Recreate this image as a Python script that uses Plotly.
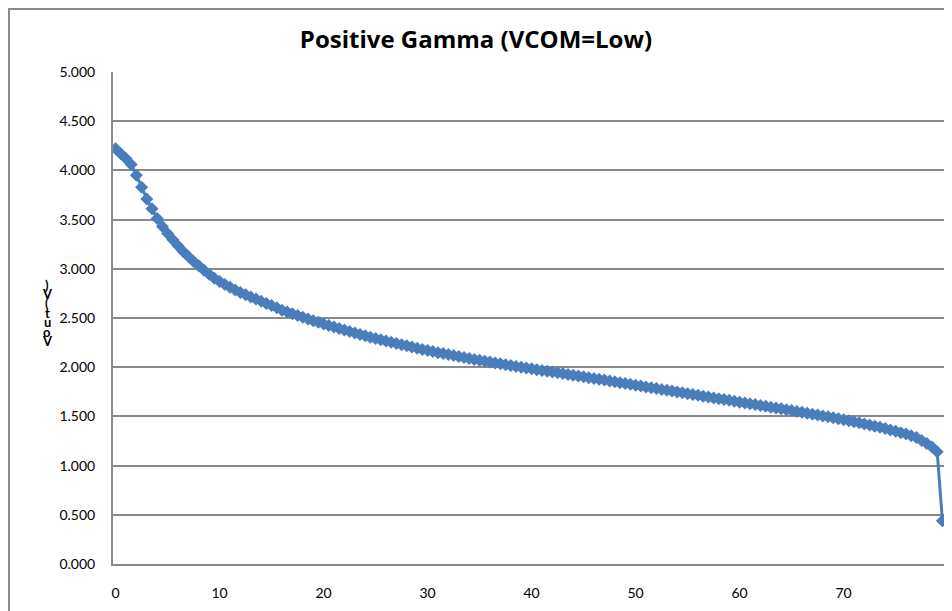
import plotly.graph_objects as go

# Data: gray index (x) and output voltage (V)
x_values = [i * 0.5 for i in range(160)]
vout = [
    4.220, 4.170, 4.120, 4.060, 3.950, 3.830, 3.710, 3.610, 3.510, 3.430,
    3.360, 3.295, 3.235, 3.175, 3.125, 3.075, 3.030, 2.985, 2.945, 2.905,
    2.870, 2.840, 2.812, 2.785, 2.760, 2.737, 2.714, 2.692, 2.670, 2.648,
    2.626, 2.604, 2.580, 2.561, 2.543, 2.525, 2.507, 2.490, 2.473, 2.456,
    2.440, 2.424, 2.408, 2.393, 2.378, 2.362, 2.347, 2.333, 2.319, 2.305,
    2.292, 2.279, 2.266, 2.253, 2.241, 2.229, 2.217, 2.205, 2.193, 2.181,
    2.170, 2.159, 2.148, 2.138, 2.128, 2.118, 2.108, 2.098, 2.088, 2.079,
    2.070, 2.061, 2.052, 2.043, 2.034, 2.025, 2.017, 2.008, 2.000, 1.991,
    1.983, 1.975, 1.967, 1.959, 1.951, 1.943, 1.935, 1.927, 1.919, 1.911,
    1.903, 1.894, 1.886, 1.877, 1.869, 1.860, 1.851, 1.843, 1.834, 1.826,
    1.817, 1.808, 1.800, 1.791, 1.783, 1.774, 1.766, 1.757, 1.748, 1.740,
    1.731, 1.723, 1.714, 1.705, 1.697, 1.688, 1.680, 1.671, 1.663, 1.654,
    1.645, 1.637, 1.628, 1.620, 1.611, 1.602, 1.594, 1.585, 1.577, 1.568,
    1.559, 1.550, 1.541, 1.532, 1.523, 1.514, 1.505, 1.496, 1.487, 1.477,
    1.467, 1.457, 1.446, 1.435, 1.424, 1.413, 1.401, 1.389, 1.376, 1.363,
    1.349, 1.335, 1.320, 1.303, 1.285, 1.255, 1.225, 1.190, 1.140, 0.440,
]
x_tick_values = [0, 10, 20, 30, 40, 50, 60, 70]
y_tick_values = [0, 0.5, 1.0, 1.5, 2.0, 2.5, 3.0, 3.5, 4.0, 4.5, 5.0]
title_text = "Positive Gamma (VCOM=Low)"
y_title_text = "Vout(V)"

BLUE = "#4a7ebb"
GRID = "#8a8a8a"

fig = go.Figure()
fig.add_trace(go.Scatter(
    x=x_values, y=vout, mode="lines+markers",
    line=dict(color=BLUE, width=3),
    marker=dict(symbol="diamond", size=10, color=BLUE),
    showlegend=False,
))

# page body has an 8px margin: figure occupies 8..952 x 8..611
OFF = 8
W, H = 952 - OFF, 611 - OFF
L, R, T, B = 113 - OFF, 7, 72 - OFF, 47
pw, ph = W - L - R, H - T - B

fig.update_layout(
    width=W, height=H,
    margin=dict(l=L, r=R, t=T, b=B),
    paper_bgcolor="white", plot_bgcolor="white",
    font=dict(family="Lato, Carlito, Calibri, sans-serif", size=14, color="black"),
    title=dict(text="<b>" + title_text + "</b>", x=(476 - OFF) / W, xanchor="center",
               y=1 - (40 - OFF) / H, yanchor="middle", yref="container",
               font=dict(size=24, family="Open Sans, sans-serif", color="black")),
    xaxis=dict(range=[-0.25, 79.75], tickvals=x_tick_values,
               ticktext=[str(v) for v in x_tick_values],
               showgrid=False, zeroline=False,
               showline=True, linecolor=GRID, linewidth=2,
               ticks="outside", ticklen=15, tickcolor="rgba(0,0,0,0)"),
    yaxis=dict(range=[0, 5], tickvals=y_tick_values,
               ticktext=["%.3f" % v for v in y_tick_values],
               showgrid=True, gridcolor=GRID, gridwidth=1.5, zeroline=False,
               showline=True, linecolor=GRID, linewidth=2,
               ticks="outside", ticklen=13, tickcolor="rgba(0,0,0,0)"),
)

# chart-area border (top and left visible; right/bottom run past the image)
fig.add_shape(type="rect", xref="paper", yref="paper",
              x0=(1 - L) / pw, x1=1.2, y0=-0.3, y1=1 + (T - 1) / ph,
              line=dict(color=GRID, width=2), fillcolor="rgba(0,0,0,0)",
              layer="below")

# stacked, overlapping y-axis title characters (bottom-to-top)
chars = list(y_title_text)
for i, ch in enumerate(chars):
    ypix = 341 - OFF - i * 9.4
    fig.add_annotation(text="<b>" + ch + "</b>", xref="paper", yref="paper",
                       x=(47 - OFF - L) / pw, y=1 - (ypix - T) / ph,
                       xanchor="center", yanchor="middle", showarrow=False,
                       font=dict(size=13, family="Lato, sans-serif", color="black"))

fig.write_html("out.html")
